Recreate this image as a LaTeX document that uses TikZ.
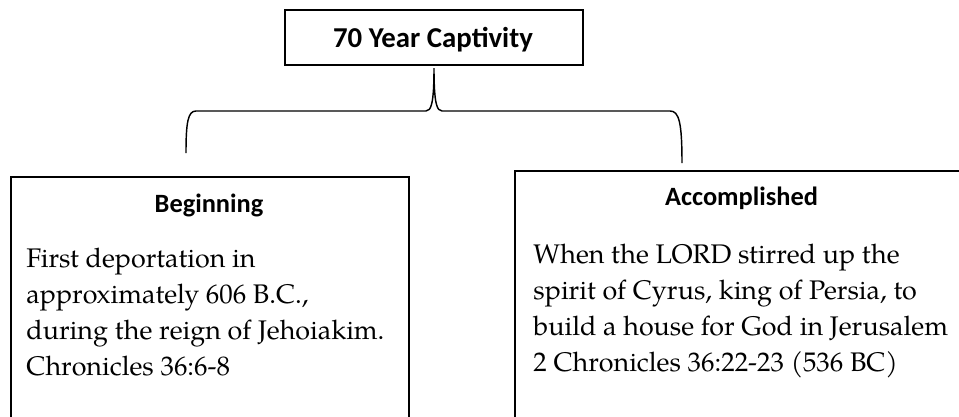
\documentclass[tikz,border=0pt]{standalone}
\usepackage{fontspec}
\setmainfont{TeX Gyre Pagella}
\newfontfamily\headfont{Carlito}
\usetikzlibrary{positioning}

\tikzstyle{box} = [rectangle, draw, line width=0.83pt, inner sep=0pt, anchor=north west]
\tikzstyle{ttl} = [font=\headfont\bfseries\fontsize{12}{14}\selectfont, anchor=base, inner sep=0pt]
\tikzstyle{hd} = [font=\headfont\bfseries\fontsize{11}{13}\selectfont, anchor=base, inner sep=0pt]
% base of a multi-line node is its last line
\tikzstyle{txt} = [font=\fontsize{11.2}{15}\selectfont, align=left, anchor=base west, inner sep=0pt]
\tikzstyle{brace} = [line width=0.6pt]

\begin{document}
\begin{tikzpicture}[x=0.41667pt, y=-0.41667pt]
	\clip (0,0) rectangle (959,416);

	\node [box, minimum width=124.2pt, minimum height=22.9pt] (capbox) at (284,9) {};
	\node [ttl] (cap) at (433,47) {70 Year Captivity};

	\node [box, minimum width=165.8pt, minimum height=110pt] (begbox) at (10,176) {};
	\node [hd] (beg) at (209,212) {Beginning};
	\node [txt] (begtxt) at (26,375) {First deportation in\\approximately 606 B.C.,\\during the reign of Jehoiakim.\\Chronicles 36:6-8};

	\node [box, minimum width=189.6pt, minimum height=110pt] (accbox) at (514,170) {};
	\node [hd] (acc) at (741.5,205) {Accomplished};
	\node [txt] (acctxt) at (533,371) {When the LORD stirred up the\\spirit of Cyrus, king of Persia, to\\build a house for God in Jerusalem\\2 Chronicles 36:22-23 (536 BC)};

	\coordinate (bl) at (186,153);
	\coordinate (br) at (682,163);
	\coordinate (tip) at (434,68);
	\draw [brace] (bl) .. controls (186,122) and (188,111) .. (196,111) -- (426,111)
		.. controls (431,111) and (434,104) .. (tip)
		.. controls (434,104) and (437,111) .. (442,111) -- (670,111)
		.. controls (679,111) and (682,122) .. (br);
\end{tikzpicture}
\end{document}
